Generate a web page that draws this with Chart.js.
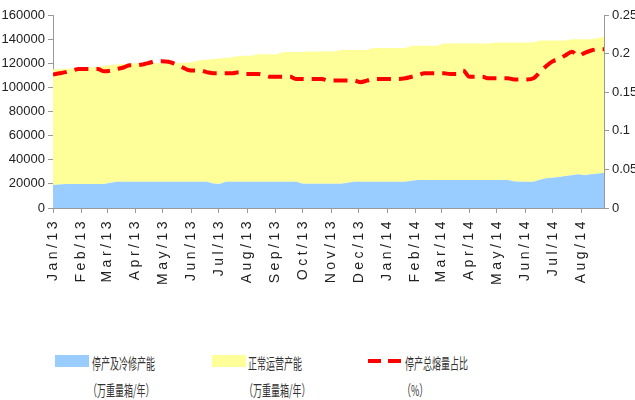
<!DOCTYPE html>
<html>
<head>
<meta charset="utf-8">
<script src="https://cdn.jsdelivr.net/npm/chart.js@4"></script>
<style>
  body { margin:0; background:#fff; width:635px; height:400px; position:relative; overflow:hidden; font-family:"Noto Sans CJK SC", sans-serif; }
  #wrap { position:absolute; left:0; top:0; width:635px; height:300px; }
  .sw { position:absolute; height:12px; width:34px; }
  .dash { position:absolute; height:4px; width:13px; background:#ff0000; }
  .lt { position:absolute; font-size:15px; line-height:16px; color:#333; white-space:nowrap; transform:scaleX(0.6); transform-origin:left top; }
</style>
</head>
<body>
<div id="wrap"><canvas id="c" width="635" height="300"></canvas></div>

<div class="sw" style="left:55px;top:355px;background:#99ccff"></div>
<div class="lt" style="left:92px;top:355px">停产及冷修产能</div>
<div class="lt" style="left:88px;top:382px">（万重量箱/年）</div>

<div class="sw" style="left:212px;top:355px;background:#ffff99"></div>
<div class="lt" style="left:248px;top:355px">正常运营产能</div>
<div class="lt" style="left:244px;top:382px">（万重量箱/年）</div>

<div class="dash" style="left:368px;top:359px"></div>
<div class="dash" style="left:388px;top:359px"></div>
<div class="lt" style="left:405px;top:355px">停产总熔量占比</div>
<div class="lt" style="left:402px;top:382px">（%）</div>

<script>
// month tick labels and their start (days since Jan 1 2013)
const monthLabels = ['Jan/13','Feb/13','Mar/13','Apr/13','May/13','Jun/13','Jul/13','Aug/13','Sep/13','Oct/13','Nov/13','Dec/13',
  'Jan/14','Feb/14','Mar/14','Apr/14','May/14','Jun/14','Jul/14','Aug/14'];
const monthStartDays = [0,31,59,90,120,151,181,212,243,273,304,334,365,396,424,455,485,516,546,577];

// weekly series, Jan 2013 - Aug 2014
const stopped = [19000,19500,20000,20000,20000,20000,20000,20000,20000,21000,
  21700,21700,21700,21700,21700,21700,21700,21700,21700,21700,21700,21700,21700,21700,21700,
  20300,20000,
  21700,21700,21700,21700,21700,21700,21700,21700,21700,21700,21700,21700,
  20200,20200,20200,20200,20200,20200,20200,
  21000,
  21700,21700,21700,21700,21700,21700,21700,21700,21700,
  22500,
  23200,23200,23200,23200,23200,23200,23200,23200,23200,23200,23200,23200,23200,23200,23200,
  22000,21800,21800,21800,
  23500,24600,25000,25700,26500,27200,27900,27200,28000,28400,29300];

const running = [96000,95700,95500,95700,95900,96000,96500,97200,97800,97500,
  97300,97600,97900,98300,98300,98300,98300,98300,98300,98400,98600,98800,99800,100800,101300,
  103200,104000,
  102900,103300,104300,104600,104600,105800,105800,105800,105800,107600,107600,107600,
  109100,109500,109500,109500,109500,109500,110800,
  110000,
  109300,109300,109300,111000,111000,111000,111000,111000,111000,
  112000,
  111300,111300,111300,111300,113100,113100,113100,113100,113100,113100,113100,113100,114100,114100,114100,
  115300,115500,115500,115500,
  115300,114200,113800,113100,112300,112800,112100,112800,112000,112600,112700];

const stopRatio = [0.173,0.1745,0.176,0.178,0.18,0.18,0.18,0.18,0.177,0.178,
  0.18,0.182,0.185,0.185,0.186,0.188,0.19,0.19,0.1895,0.187,0.183,0.179,0.178,0.178,0.176,
  0.1745,0.1745,0.1745,0.1745,0.1758,0.1736,0.1736,0.1736,0.172,0.17,0.17,0.17,0.17,
  0.167,0.167,0.167,0.167,0.167,0.165,0.165,0.165,0.165,0.165,0.163,0.165,
  0.167,0.167,0.167,0.167,0.167,0.168,0.17,0.172,0.1745,0.1745,0.1745,0.1745,0.1736,0.1736,0.178,
  0.17,0.17,0.17,0.168,0.168,0.168,0.168,0.1666,0.1666,0.1666,0.168,
  0.176,0.184,0.19,0.193,0.198,0.2025,0.197,0.201,0.204,0.2055,0.2055];

const leftTicks = [0,20000,40000,60000,80000,100000,120000,140000,160000];
const rightTicks = [0,0.05,0.1,0.15,0.2,0.25];

const pts = (arr) => arr.map((v, i) => ({ x: i, y: v }));
const tickFont = { family: 'Liberation Sans, Arial, sans-serif', size: 13 };
const axisGrey = '#999';

// x labels in the original are stretched along their length; widen them with letter spacing
function spacedLabels(s){
  if (s._spaced) return;
  const orig = s.drawLabels.bind(s);
  s.drawLabels = (area) => { s.ctx.save(); s.ctx.letterSpacing = '3.5px'; orig(area); s.ctx.restore(); };
  s._spaced = true;
}

new Chart(document.getElementById('c').getContext('2d'), {
  type: 'line',
  data: {
    datasets: [
      { label: '停产总熔量占比', data: pts(stopRatio), yAxisID: 'y2', borderColor: '#ff0000', borderWidth: 4,
        borderDash: [14, 8], pointRadius: 0, fill: false, cubicInterpolationMode: 'monotone', order: 0 },
      { label: '停产及冷修产能', data: pts(stopped), yAxisID: 'y', backgroundColor: '#99ccff', borderWidth: 0,
        pointRadius: 0, fill: 'origin', tension: 0, order: 1 },
      { label: '正常运营产能', data: pts(running), yAxisID: 'y', backgroundColor: '#ffff99', borderWidth: 0,
        pointRadius: 0, fill: '-1', tension: 0, order: 2 }
    ]
  },
  options: {
    responsive: false,
    animation: false,
    layout: { padding: { top: 15, left: 0, right: 0, bottom: 0 } },
    plugins: { legend: { display: false }, tooltip: { enabled: false } },
    scales: {
      x: {
        type: 'linear', min: 0, max: stopped.length - 1,
        afterBuildTicks: (s) => { s.ticks = monthStartDays.map(d => ({ value: d / 7 })); },
        afterFit: (s) => { s.height = 92; },
        afterUpdate: spacedLabels,
        ticks: { autoSkip: false, maxRotation: 90, minRotation: 90, color: '#222', padding: 5,
          font: { family: 'Liberation Sans, Arial, sans-serif', size: 14 },
          callback: (v, i) => monthLabels[i] },
        grid: { drawOnChartArea: false, tickLength: 5, color: axisGrey },
        border: { color: axisGrey }
      },
      y: {
        position: 'left', stacked: true, min: 0, max: 160000,
        afterBuildTicks: (s) => { s.ticks = leftTicks.map(v => ({ value: v })); },
        afterFit: (s) => { s.width = 53; },
        ticks: { color: '#222', font: tickFont, callback: (v) => String(v) },
        grid: { drawOnChartArea: false, tickLength: 5, color: axisGrey },
        border: { color: axisGrey }
      },
      y2: {
        position: 'right', min: 0, max: 0.25,
        afterBuildTicks: (s) => { s.ticks = rightTicks.map(v => ({ value: v })); },
        afterFit: (s) => { s.width = 31; },
        ticks: { color: '#222', font: tickFont, callback: (v) => String(v) },
        grid: { drawOnChartArea: false, tickLength: 5, color: axisGrey },
        border: { color: axisGrey }
      }
    }
  }
});
</script>
</body>
</html>
